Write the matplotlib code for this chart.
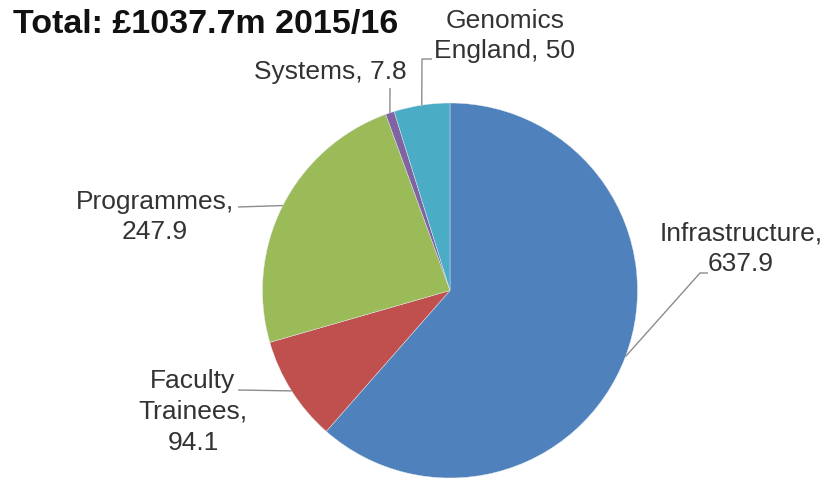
import numpy as np
import matplotlib
matplotlib.use("Agg")
import matplotlib.pyplot as plt

# spending by area, £m, 2015/16 (clockwise from 12 o'clock)
categories = ["Infrastructure", "Faculty\nTrainees", "Programmes", "Systems", "Genomics\nEngland"]
values = [637.9, 94.1, 247.9, 7.8, 50]
value_labels = ["637.9", "94.1", "247.9", "7.8", "50"]
colors = ["#4F81BD", "#C0504D", "#9BBB59", "#8064A2", "#4BACC6"]
title = "Total: £1037.7m 2015/16"

W, H = 825, 480
plt.rcParams["font.family"] = ["Liberation Sans", "DejaVu Sans"]

fig = plt.figure(figsize=(W / 100, H / 100), dpi=100)
ax = fig.add_axes([0, 0, 1, 1])


def Y(y):
    # pixel row (from top) -> axes y
    return H - y


cx, cy, r = 450, 290.5, 187.5
wedges, _ = ax.pie(values, colors=colors, startangle=90, counterclock=False,
                   center=(cx, Y(cy)), radius=r, frame=True,
                   wedgeprops=dict(edgecolor="#e6ecf3", linewidth=0.3))
ax.set_xlim(0, W)
ax.set_ylim(0, H)
ax.set_aspect("equal")
ax.axis("off")

# label layout: text centre, alignment, elbow points of the leader (pixel coords)
label_text = [
    "Infrastructure,\n637.9",
    "Faculty\nTrainees,\n94.1",
    "Programmes,\n247.9",
    "Systems, 7.8",
    "Genomics\nEngland, 50",
]
label_pos = [(741, 249), (193, 412), (155, 217), (407, 72), (505, 36)]
label_ha = ["center", "center", "center", "right", "center"]
leader_pts = [
    [(700, 273), (708, 273)],
    [(238, 390)],
    [(238, 207)],
    [(390, 88)],
    [(422, 59), (432, 59)],
]

for w, txt, (tx, ty), ha, pts in zip(wedges, label_text, label_pos, label_ha, leader_pts):
    mid = np.deg2rad((w.theta1 + w.theta2) / 2)
    ex, ey = cx + r * np.cos(mid), Y(cy) + r * np.sin(mid)
    xs = [ex] + [p[0] for p in pts]
    ys = [ey] + [Y(p[1]) for p in pts]
    ax.plot(xs, ys, color="#8c8c8c", lw=1.0, solid_capstyle="butt")
    ax.text(tx, Y(ty), txt, ha=ha, va="center", fontsize=19, color="#333333",
            linespacing=1.36, multialignment="center")

ax.text(13, Y(25), title, ha="left", va="center", fontsize=24.5,
        fontweight="bold", color="#111111")

fig.savefig("out.png", dpi=100)
